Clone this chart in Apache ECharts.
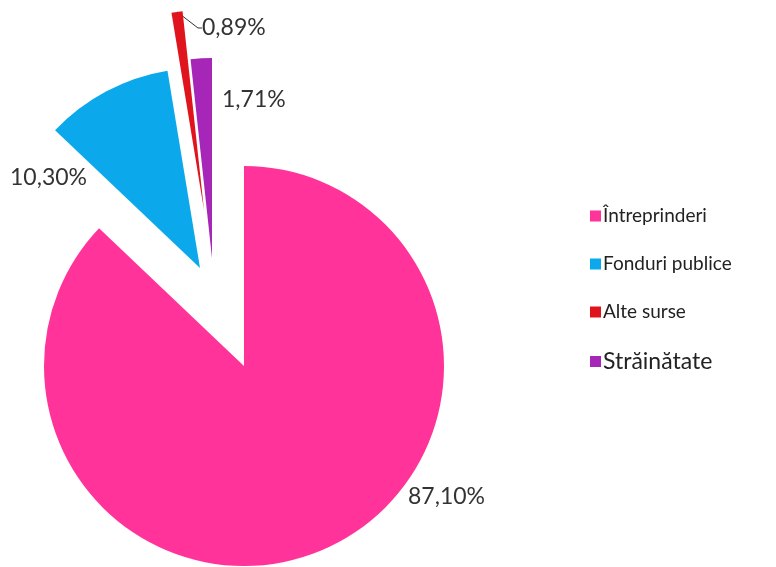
<!DOCTYPE html>
<html><head><meta charset="utf-8">
<script src="https://cdn.jsdelivr.net/npm/echarts@6/dist/echarts.min.js"></script>
<style>html,body{margin:0;padding:0;background:#fff}#c{width:776px;height:567px}</style>
</head><body><div id="c"></div><script>
// ---- data ----
const categories = ['Întreprinderi', 'Fonduri publice', 'Alte surse', 'Străinătate'];
const values = [87.10, 10.30, 0.89, 1.71];

// ---- style / layout ----
const colors = ['#FF3399', '#0BA9EC', '#E0141C', '#A626B8'];
const baseCenter = [244, 366];
const R = 200;
const explode = [[0, 0], [-44, -98], [-40, -156], [-32, -108]];
const labelPos = [[408, 497], [10, 178], [202, 28], [222, 100]];
const FONT = 'Lato';

const fmt = p => p.value.toFixed(2).replace('.', ',') + '%';

const series = categories.map((cat, i) => ({
  type: 'pie',
  radius: [0, R],
  center: [baseCenter[0] + explode[i][0], baseCenter[1] + explode[i][1]],
  startAngle: 90,
  clockwise: true,
  silent: true,
  animation: false,
  avoidLabelOverlap: false,
  minAngle: 0,
  data: values.map((v, j) => j === i
    ? { name: categories[j], value: v, itemStyle: { color: colors[j] } }
    : { name: '', value: v, itemStyle: { color: 'rgba(0,0,0,0)' }, label: { show: false }, labelLine: { show: false } }),
  label: { show: true, formatter: fmt, fontSize: 23, color: '#333', fontFamily: FONT },
  labelLine: { show: i === 2, length: 4, length2: 4, smooth: false, lineStyle: { color: '#333', width: 1 } },
  labelLayout: p => p.dataIndex === i
    ? { x: labelPos[i][0], y: labelPos[i][1], align: 'left', verticalAlign: 'middle' }
    : {}
}));

const chart = echarts.init(document.getElementById('c'));
chart.setOption({
  backgroundColor: '#fff',
  legend: {
    orient: 'vertical',
    left: 585,
    top: 201,
    icon: 'rect',
    itemWidth: 11,
    itemHeight: 11,
    itemGap: 28,
    selectedMode: false,
    textStyle: { fontFamily: FONT, fontSize: 19, color: '#222', lineHeight: 20, padding: [0, 0, 0, -3] },
    data: categories.map((c, i) => i === 3 ? { name: c, textStyle: { fontSize: 23 } } : { name: c })
  },
  series: series
});
</script></body></html>
